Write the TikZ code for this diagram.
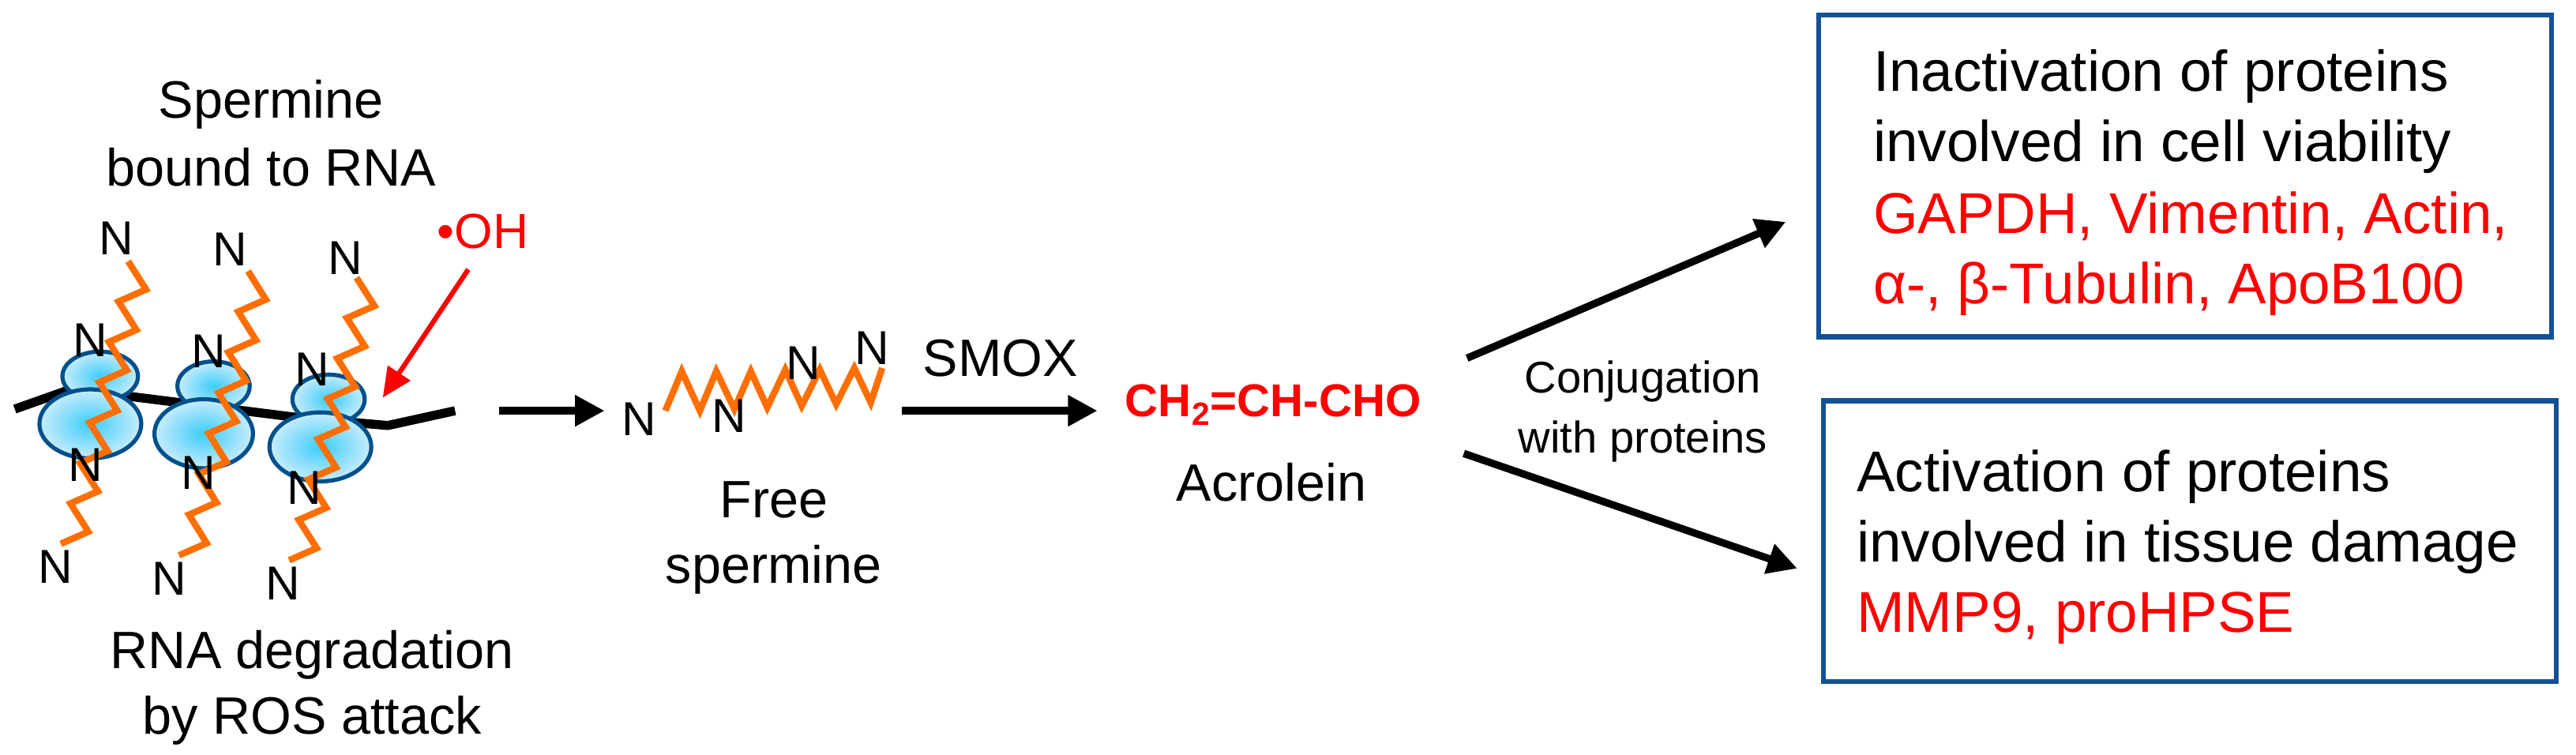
\documentclass[tikz,border=0pt]{standalone}
\usepackage{fontspec}
\setmainfont{Liberation Sans}
\usetikzlibrary{arrows.meta}
\definecolor{chainor}{RGB}{255,110,0}
\definecolor{ringblue}{RGB}{0,80,140}
\definecolor{boxblue}{RGB}{20,80,150}
\definecolor{redt}{RGB}{255,0,0}
\newcommand{\spchain}[4]{%
  \pgfmathsetmacro{\ddx}{(#3-#1)/7}\pgfmathsetmacro{\ddy}{(#4-#2)/7}%
  \pgfmathsetmacro{\lx}{0.7*\ddx+15}\pgfmathsetmacro{\ly}{0.7*\ddy}%
  \pgfmathsetmacro{\sx}{0.3*\ddx-15}\pgfmathsetmacro{\sy}{0.3*\ddy}%
  \draw[chain] (#1,#2) \foreach \i in {1,...,7}{ -- ++(\lx,\ly) -- ++(\sx,\sy)};}
\begin{document}
\begin{tikzpicture}[x=1pt,y=-1pt,
  lab/.style={font=\fontsize{32}{41}\selectfont, inner sep=0, anchor=base},
  nn/.style={font=\fontsize{29}{30}\selectfont, inner sep=0},
  boxtxt/.style={font=\fontsize{35}{40}\selectfont, inner sep=0, anchor=base west},
  chain/.style={draw=chainor, line width=4pt, line join=miter},
  bead/.style={draw=ringblue, line width=2.5pt, inner color={rgb,255:red,60;green,205;blue,250}, outer color={rgb,255:red,200;green,236;blue,252}},
  arr/.style={line width=5pt, -{Triangle[length=18pt,width=18pt]}},
  frame/.style={draw=boxblue, line width=3pt}]
\useasboundingbox (0,0) rectangle (1568,459.5);
% labels
\node[lab] (top1) at (165,72) {Spermine};
\node[lab] (top2) at (165,113) {bound to RNA};
\node[lab] (bot1) at (190,407) {RNA degradation};
\node[lab] (bot2) at (190,447) {by ROS attack};
% backbone
\draw[line width=5.5pt, line join=round] (9,249) -- (40,238) -- (77,241) -- (180,254) -- (236,259) -- (277,250);
% beads
\shadedraw[bead] (61,229) ellipse[x radius=23, y radius=15];
\shadedraw[bead] (55,258) ellipse[x radius=31, y radius=21];
\shadedraw[bead] (130,235) ellipse[x radius=22, y radius=15];
\shadedraw[bead] (124,264) ellipse[x radius=30, y radius=21];
\shadedraw[bead] (200,243) ellipse[x radius=22, y radius=15];
\shadedraw[bead] (195,272) ellipse[x radius=31, y radius=21];
% chains
\spchain{78}{159}{37}{331}
\spchain{151}{165}{109}{338}
\spchain{217}{169}{176}{341}
\foreach \nx/\ny [count=\k] in {71/145,55/207,52/283,34/345,140/152,127/214,121/288,103/352,210/157,190/225,185/297,172/355}
  \node[nn] (n\k) at (\nx,\ny) {N};
% OH
\node[font=\fontsize{30}{30}\selectfont, text=redt, inner sep=0] (oh) at (294,141) {•OH};
\coordinate (ohs) at (285,164);
\coordinate (ohtip) at (233,242);
\draw[draw=redt, line width=3pt, -{Triangle[length=18pt,width=16pt]}] (ohs) -- (ohtip);
% arrow 1
\coordinate (a1s) at (304,250);
\coordinate (a1e) at (368,250);
\draw[arr] (a1s) -- (a1e);
% free spermine zigzag
\draw[chain] (405,250) -- (415,226) -- (426,250) -- (436,226) -- (447,249) -- (457,226) -- (467,248) -- (478,225) -- (488,247) -- (499,225) -- (509,246) -- (520,224) -- (530,245) -- (537,224);
\node[nn] (f1) at (389,255) {N};
\node[nn] (f2) at (444,253) {N};
\node[nn] (f3) at (489,221) {N};
\node[nn] (f4) at (531,212) {N};
\node[lab] (free1) at (471,315) {Free};
\node[lab] (free2) at (471,355) {spermine};
% SMOX arrow
\coordinate (s1) at (549,250);
\coordinate (s2) at (668,250);
\draw[arr] (s1) -- (s2);
\node[lab] (smox) at (609,229) {SMOX};
% acrolein
\node[font=\bfseries\fontsize{28}{30}\selectfont, text=redt, inner sep=0, anchor=base] (acr) at (775,253.5) {CH\textsubscript{2}=CH-CHO};
\node[lab] (acrl) at (774,305) {Acrolein};
\node[font=\fontsize{27}{30}\selectfont, inner sep=0, anchor=base] (conj1) at (1000,239) {Conjugation};
\node[font=\fontsize{27}{30}\selectfont, inner sep=0, anchor=base] (conj2) at (1000,275.5) {with proteins};
% boxes
\node[frame, minimum width=446, minimum height=196, inner sep=0] (box1) at (1330,107) {};
\node[frame, minimum width=446, minimum height=171, inner sep=0] (box2) at (1333,329.5) {};
\node[boxtxt] (t1) at (1140,55.7) {Inactivation of proteins};
\node[boxtxt] (t2) at (1140,98.5) {involved in cell viability};
\node[boxtxt, text=redt] (t3) at (1140,142) {GAPDH, Vimentin, Actin,};
\node[boxtxt, text=redt] (t4) at (1140,185) {α-, β-Tubulin, ApoB100};
\node[boxtxt] (u1) at (1130,299) {Activation of proteins};
\node[boxtxt] (u2) at (1130,342) {involved in tissue damage};
\node[boxtxt, text=redt] (u3) at (1130,385) {MMP9, proHPSE};
% arrows to boxes
\coordinate (c1) at (893,218);
\coordinate (c2) at (891,276);
\coordinate (b1) at (1087,135);
\coordinate (b2) at (1094,346);
\draw[arr, line width=4.5pt] (c1) -- (b1);
\draw[arr, line width=4.5pt] (c2) -- (b2);
\end{tikzpicture}
\end{document}
